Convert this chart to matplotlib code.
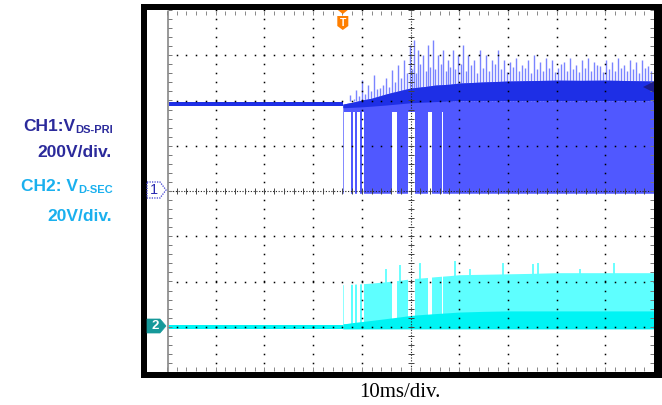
import matplotlib
matplotlib.use('Agg')
import matplotlib.pyplot as plt
import numpy as np
from matplotlib.patches import Polygon, Rectangle

# ---- data (time in ms, voltages in V) ----
idle_t_ms = [0.0, 36.1]
ch1_idle_v = 384
ch2_idle_v = 0

env_t_ms = [36.1, 38, 40, 42, 45, 48, 50, 53, 55, 58, 60, 65, 70, 75, 80, 85, 90, 95, 100]
ch1_top_v = [384, 392, 402, 410, 429, 445, 455, 462, 468, 472, 477, 482, 486, 488, 490, 489, 490, 488, 486]
ch1_mid_v = [368, 370, 372, 375, 380, 386, 390, 393, 395, 398, 400, 400, 400, 400, 400, 400, 400, 400, 400]
ch1_low_v = [-10] * 19

ch2_top_v = [18.6, 18.8, 19.0, 19.3, 19.9, 20.6, 21.2, 21.7, 22.1, 22.6, 23.0, 23.2, 23.4, 23.6, 23.9, 23.9, 23.9, 23.9, 23.9]
ch2_mid_v = [1.2, 1.8, 2.3, 2.8, 3.6, 4.4, 5.0, 5.5, 5.8, 6.2, 6.5, 6.8, 7.0, 7.0, 7.0, 7.0, 7.0, 7.0, 7.0]
ch2_low_v = [-0.9] * 19

# white gaps inside the start-up burst region
gap_start_ms = [36.4, 38.2, 39.0, 40.0, 46.2, 49.5, 50.2, 53.6, 56.5]
gap_end_ms = [37.8, 38.6, 39.6, 40.5, 47.2, 50.0, 50.9, 54.4, 56.7]

ch1_spike_t = [37.6, 38.3, 38.8, 39.5, 40.0, 40.7, 41.3, 41.9, 42.5, 43.1,
               43.7, 44.4, 45.0, 45.6, 46.2, 46.8, 47.4, 48.0, 48.7, 49.3,
               49.9, 50.3, 50.7, 51.1, 51.5, 52.0, 52.6, 53.1, 53.6, 54.1,
               54.6, 55.1, 55.6, 56.2, 56.7, 57.2, 57.7, 58.2, 58.7, 59.2,
               59.8, 60.3, 60.8, 61.3, 61.8, 62.4, 63.0, 63.6, 64.3, 64.9,
               65.5, 66.1, 66.7, 67.3, 68.0, 68.6, 69.2, 69.8, 70.4, 71.0,
               71.7, 72.3, 72.9, 73.5, 74.1, 74.7, 75.4, 76.0, 76.6, 77.2,
               77.8, 78.4, 79.1, 79.7, 80.3, 80.9, 81.5, 82.1, 82.8, 83.4,
               84.0, 84.6, 85.2, 85.8, 86.4, 87.0, 87.7, 88.3, 88.9, 89.5,
               90.1, 90.7, 91.4, 92.0, 92.6, 93.2, 93.8, 94.5, 95.1, 95.7,
               96.3, 96.9, 97.5, 98.1, 98.8, 99.4]
ch1_spike_v = [424, 405, 446, 420, 491, 430, 469, 440, 513, 450,
               455, 470, 499, 460, 535, 480, 557, 500, 579, 520,
               645, 540, 667, 520, 623, 560, 601, 530, 645, 550,
               667, 540, 601, 560, 623, 530, 579, 550, 623, 540,
               601, 560, 645, 530, 601, 555, 579, 520, 623, 545,
               601, 530, 579, 560, 623, 540, 579, 525, 570, 550,
               588, 530, 557, 545, 579, 520, 601, 540, 570, 530,
               588, 545, 579, 525, 544, 560, 570, 530, 588, 540,
               557, 525, 579, 545, 588, 530, 570, 555, 553, 525,
               579, 540, 570, 530, 588, 545, 557, 530, 579, 540,
               570, 520, 579, 545, 553, 530]

ch2_spike_t = [45.0, 47.8, 52.0, 59.1, 62.2, 69.0, 75.2, 76.2, 84.8, 91.8]
ch2_spike_v = [25.6, 27.4, 28.3, 29.2, 25.6, 28.3, 27.8, 28.3, 25.6, 28.3]

ch1_scale = 200.0   # V/div
ch2_scale = 20.0    # V/div
ch2_offset = -3.0   # div
trigger_ms = 36.1

W, H = 662, 405


def fx(x):
    return x / W


def fy(y):
    return 1 - y / H


def c1(v):
    return np.asarray(v, dtype=float) / ch1_scale


def c2(v):
    return np.asarray(v, dtype=float) / ch2_scale + ch2_offset


fig = plt.figure(figsize=(W / 100, H / 100), dpi=100)
fig.patch.set_facecolor('white')
ax = fig.add_axes([fx(167), fy(372), (654 - 167) / W, (372 - 10) / H])
ax.set_xlim(0, 100)
ax.set_ylim(-4, 4)
ax.axis('off')

blue_dark = '#1e2fe6'
blue_light = '#5058ff'
blue_spike = '#7a84ff'
cyan_dark = '#00f4f4'
cyan_light = '#5effff'

# ---- CH1 ----
ax.fill_between(idle_t_ms, c1(ch1_idle_v - 9), c1(ch1_idle_v + 9), color=blue_dark, lw=0, zorder=3)
ax.fill_between(env_t_ms, c1(ch1_low_v), c1(ch1_top_v), color=blue_light, lw=0, zorder=2)
ax.vlines(ch1_spike_t, c1(400), c1(ch1_spike_v), color=blue_spike, lw=1.0, zorder=2.5)
ax.fill_between(env_t_ms, c1(ch1_mid_v), c1(ch1_top_v), color=blue_dark, lw=0, zorder=3)
for g0, g1 in zip(gap_start_ms, gap_end_ms):
    ax.fill_between([g0, g1], c1(-12), c1(350), color='white', lw=0, zorder=2.8)

# ---- CH2 ----
ax.fill_between(idle_t_ms, c2(ch2_idle_v - 0.9), c2(ch2_idle_v + 0.9), color=cyan_dark, lw=0, zorder=3)
ax.fill_between(env_t_ms, c2(ch2_low_v), c2(ch2_top_v), color=cyan_light, lw=0, zorder=2)
ax.vlines(ch2_spike_t, c2(15), c2(ch2_spike_v), color=cyan_light, lw=1.3, zorder=2)
ax.fill_between(env_t_ms, c2(ch2_low_v), c2(ch2_mid_v), color=cyan_dark, lw=0, zorder=3)
for g0, g1 in zip(gap_start_ms, gap_end_ms):
    ax.fill_between([g0, g1], c2(1.0), c2(26), color='white', lw=0, zorder=2.8)

# ---- graticule ----
minor_x = np.arange(0, 100.01, 2)
minor_y = np.arange(-4, 4.01, 0.2)
dot = dict(ls='none', marker='s', ms=1.1, mew=0, color='#000000', zorder=6)
for gy in [-3, -2, -1, 1, 2, 3]:
    ax.plot(minor_x, np.full_like(minor_x, gy), **dot)
for gx in [10, 20, 30, 40, 60, 70, 80, 90]:
    ax.plot(np.full_like(minor_y, gx), minor_y, **dot)
# centre axes
ax.plot([0, 100], [0, 0], ls=(0, (1, 1.5)), lw=0.8, color='#222222', zorder=6)
ax.plot([50, 50], [-4, 4], ls=(0, (1, 1.5)), lw=0.8, color='#222222', zorder=6)
ax.plot(minor_x, np.zeros_like(minor_x), ls='none', marker='|', ms=4.5, mew=0.7,
        color='#444444', zorder=6)
ax.plot(np.full_like(minor_y, 50), minor_y, ls='none', marker='_', ms=4.5, mew=0.7,
        color='#444444', zorder=6)
# edges
ax.plot([0, 0], [-4, 4], lw=2.2, color='#9a9a9a', zorder=6, solid_capstyle='butt')
ax.plot(np.full_like(minor_y, 0.6), minor_y, ls='none', marker='_', ms=3, mew=0.7,
        color='#777777', zorder=6)
ax.plot(np.full_like(minor_y, 99.6), minor_y, ls='none', marker='_', ms=3, mew=0.7,
        color='#777777', zorder=6)
ax.plot(minor_x, np.full_like(minor_x, -3.93), ls='none', marker='|', ms=3, mew=0.7,
        color='#888888', zorder=6)
ax.plot(minor_x, np.full_like(minor_x, 3.93), ls='none', marker='|', ms=3, mew=0.7,
        color='#888888', zorder=6)

# ---- black bezel ----
for x0, y0, x1, y1 in [(141, 4, 147, 378), (141, 4, 662, 9.5),
                       (654, 4, 662, 378), (141, 372, 662, 378)]:
    fig.patches.append(Rectangle((fx(x0), fy(y1)), (x1 - x0) / W, (y1 - y0) / H,
                                 transform=fig.transFigure, color='black', lw=0))


# ---- channel / trigger markers ----
def px_poly(pts, **kw):
    p = Polygon([(fx(x), fy(y)) for x, y in pts], closed=True,
                transform=fig.transFigure, **kw)
    fig.patches.append(p)


px_poly([(147, 182), (160, 182), (166, 190), (160, 198), (147, 198)],
        facecolor='white', edgecolor='#3a3ad0', lw=0.9, ls=(0, (1, 1)))
fig.text(fx(154), fy(190), '1', color='#2a2ab0', fontsize=10.5,
         ha='center', va='center', family='Liberation Sans')
px_poly([(147, 319), (160, 319), (166, 326), (160, 333), (147, 333)],
        facecolor='#16999a', edgecolor='#16999a', lw=0.5)
fig.text(fx(155), fy(326), '2', color='white', fontsize=9.5, fontweight='bold',
         ha='center', va='center', family='Liberation Sans')

tx = 167 + trigger_ms * 4.87
px_poly([(tx - 5, 10), (tx + 5, 10), (tx, 14)], facecolor='#ff7f00', edgecolor='none')
px_poly([(tx - 5.5, 16), (tx + 5.5, 16), (tx + 5.5, 26), (tx, 30), (tx - 5.5, 26)],
        facecolor='#ff7f00', edgecolor='none')
fig.text(fx(tx), fy(22.5), 'T', color='white', fontsize=7.5, fontweight='bold',
         ha='center', va='center', family='Liberation Sans')
px_poly([(643, 87), (654, 81.5), (654, 92.5)], facecolor='#1c1c8c', edgecolor='none')

# ---- labels ----
fig.canvas.draw()
renderer = fig.canvas.get_renderer()


def sub_label(x_right, y_base, main, sub, color):
    s = fig.text(fx(x_right), fy(y_base + 2), sub, color=color, fontsize=8,
                 fontweight='bold', ha='right', va='baseline', family='Liberation Sans')
    bb = s.get_window_extent(renderer)
    fig.text(bb.x0 / W, fy(y_base), main, color=color, fontsize=12.5,
             fontweight='bold', ha='right', va='baseline', family='Liberation Sans')


ch1_color = '#2b2a9b'
ch2_color = '#1ab0ee'
sub_label(113, 131, 'CH1:V', 'DS-PRI', ch1_color)
fig.text(fx(112), fy(157), '200V/div.', color=ch1_color, fontsize=12.5,
         fontweight='bold', ha='right', va='baseline', family='Liberation Sans')
sub_label(113, 191, 'CH2: V', 'D-SEC', ch2_color)
fig.text(fx(112), fy(221), '20V/div.', color=ch2_color, fontsize=12.5,
         fontweight='bold', ha='right', va='baseline', family='Liberation Sans')
fig.text(fx(400), fy(397), '10ms/div.', color='black', fontsize=15,
         ha='center', va='baseline', family='Liberation Serif')

fig.savefig('out.png', dpi=100)
